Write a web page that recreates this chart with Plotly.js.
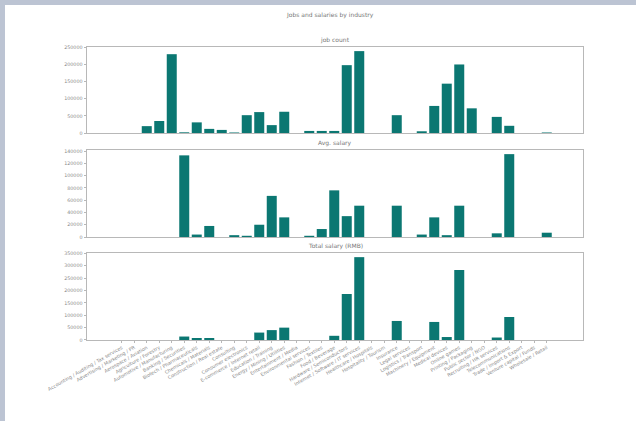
<!DOCTYPE html>
<html>
<head>
<meta charset="utf-8">
<script src="https://cdn.plot.ly/plotly-3.0.1.min.js"></script>
<style>
  html, body { margin: 0; padding: 0; }
  body { width: 636px; height: 421px; background: #bcc4d3; position: relative; overflow: hidden; }
  #chart { position: absolute; left: 5px; top: 5px; width: 631px; height: 416px; background: #fff; }
</style>
</head>
<body>
<div id="chart"></div>
<script>
// ---- data ----
const categories = [
  "Accounting / Auditing / Tax services", "Advertising / Marketing / PR", "Aerospace / Aviation",
  "Agriculture / Forestry", "Automotive / Manufacturing", "Banking / Securities",
  "Biotech / Pharmaceuticals", "Chemicals / Materials", "Construction / Real estate",
  "Consulting", "Consumer electronics", "E-commerce / Internet retail",
  "Education / Training", "Energy / Mining / Utilities", "Entertainment / Media",
  "Environmental services", "Fashion / Textiles", "Food / Beverage",
  "Hardware / Semiconductors", "Internet / Software / IT services", "Healthcare / Hospitals",
  "Hospitality / Tourism", "Insurance", "Legal services",
  "Logistics / Transport", "Machinery / Equipment", "Medical devices",
  "Online games", "Printing / Packaging", "Public sector / NGO",
  "Recruiting / HR services", "Telecommunications", "Trade / Import & Export",
  "Venture capital / Funds", "Wholesale / Retail"
];
const jobCount = [
  0, 0, 20000, 35000, 230000, 2000, 31000, 12000, 9000, 1500,
  52000, 61000, 23000, 62000, 0, 6000, 6000, 6000, 198000, 239000,
  0, 0, 52000, 0, 5000, 79000, 144000, 200000, 72000, 0,
  47000, 21000, 0, 0, 1500
];
const avgSalary = [
  0, 0, 0, 0, 0, 133000, 4000, 18000, 0, 3000,
  2000, 20000, 67000, 32000, 0, 2000, 13000, 76000, 34000, 51000,
  0, 0, 51000, 0, 4000, 32000, 3000, 51000, 0, 0,
  6000, 135000, 0, 0, 7000
];
const totalSalary = [
  0, 0, 0, 0, 0, 14000, 8000, 8000, 0, 0,
  0, 30000, 40000, 50000, 0, 0, 0, 17000, 186000, 335000,
  0, 0, 77000, 0, 0, 73000, 12000, 283000, 0, 0,
  10000, 93000, 0, 0, 0
];
const yTicks1 = [0, 50000, 100000, 150000, 200000, 250000];
const yTicks2 = [0, 20000, 40000, 60000, 80000, 100000, 120000, 140000];
const yTicks3 = [0, 50000, 100000, 150000, 200000, 250000, 300000, 350000];
const mainTitle = "Jobs and salaries by industry";
const subTitles = ["job count", "Avg. salary", "Total salary (RMB)"];

// ---- styling ----
const barColor = "#0b7772";
const spine = "#b8b8b8";
const tickFont = { family: "DejaVu Sans", size: 4.8, color: "#8a8a8a" };

function bar(vals, xa, ya) {
  return {
    type: "bar", x: categories, y: vals, xaxis: xa, yaxis: ya,
    marker: { color: barColor, line: { width: 0 } },
    hoverinfo: "x+y"
  };
}
const xrange = [-2.78, 36.9];
function xax(showLabels) {
  return {
    type: "category", range: xrange, showline: true, mirror: true, linecolor: spine, linewidth: 1,
    showgrid: false, zeroline: false, ticks: showLabels ? "outside" : "", ticklen: 2, tickcolor: spine,
    showticklabels: showLabels, tickangle: -30, tickfont: tickFont, automargin: false
  };
}
function yax(dom, tv, maxv) {
  return {
    domain: dom, range: [0, maxv], showline: true, mirror: true, linecolor: spine, linewidth: 1,
    showgrid: false, zeroline: false, ticks: "outside", ticklen: 2.5, tickcolor: spine,
    tickvals: tv, ticktext: tv.map(String), tickfont: tickFont, automargin: false
  };
}
const d1 = [0.7065, 1.0], d2 = [0.3515, 0.6485], d3 = [0.0, 0.2969];

const xa1 = xax(false); xa1.anchor = "y";
const xa2 = xax(false); xa2.anchor = "y2";
const xa3 = xax(true);  xa3.anchor = "y3";

const layout = {
  width: 631, height: 416,
  margin: { l: 82, r: 53, t: 42, b: 81 },
  paper_bgcolor: "#ffffff", plot_bgcolor: "#ffffff",
  showlegend: false, bargap: 0.2,
  font: { family: "DejaVu Sans", color: "#777" },
  xaxis: xa1, xaxis2: xa2, xaxis3: xa3,
  yaxis: Object.assign(yax(d1, yTicks1, 251000), { anchor: "x" }),
  yaxis2: Object.assign(yax(d2, yTicks2, 141750), { anchor: "x2" }),
  yaxis3: Object.assign(yax(d3, yTicks3, 351750), { anchor: "x3" }),
  annotations: [
    { text: mainTitle, xref: "paper", yref: "paper", x: 0.49, y: 1.11, showarrow: false,
      xanchor: "center", yanchor: "middle", font: { size: 6, color: "#777" } },
    { text: subTitles[0], xref: "paper", yref: "paper", x: 0.5, y: d1[1], yshift: 1, showarrow: false,
      xanchor: "center", yanchor: "bottom", font: { size: 6, color: "#777" } },
    { text: subTitles[1], xref: "paper", yref: "paper", x: 0.5, y: d2[1], yshift: 1, showarrow: false,
      xanchor: "center", yanchor: "bottom", font: { size: 6, color: "#777" } },
    { text: subTitles[2], xref: "paper", yref: "paper", x: 0.5, y: d3[1], yshift: 1, showarrow: false,
      xanchor: "center", yanchor: "bottom", font: { size: 6, color: "#777" } }
  ]
};

Plotly.newPlot("chart", [
  bar(jobCount, "x", "y"),
  bar(avgSalary, "x2", "y2"),
  bar(totalSalary, "x3", "y3")
], layout, { displayModeBar: false, staticPlot: true });
</script>
</body>
</html>
